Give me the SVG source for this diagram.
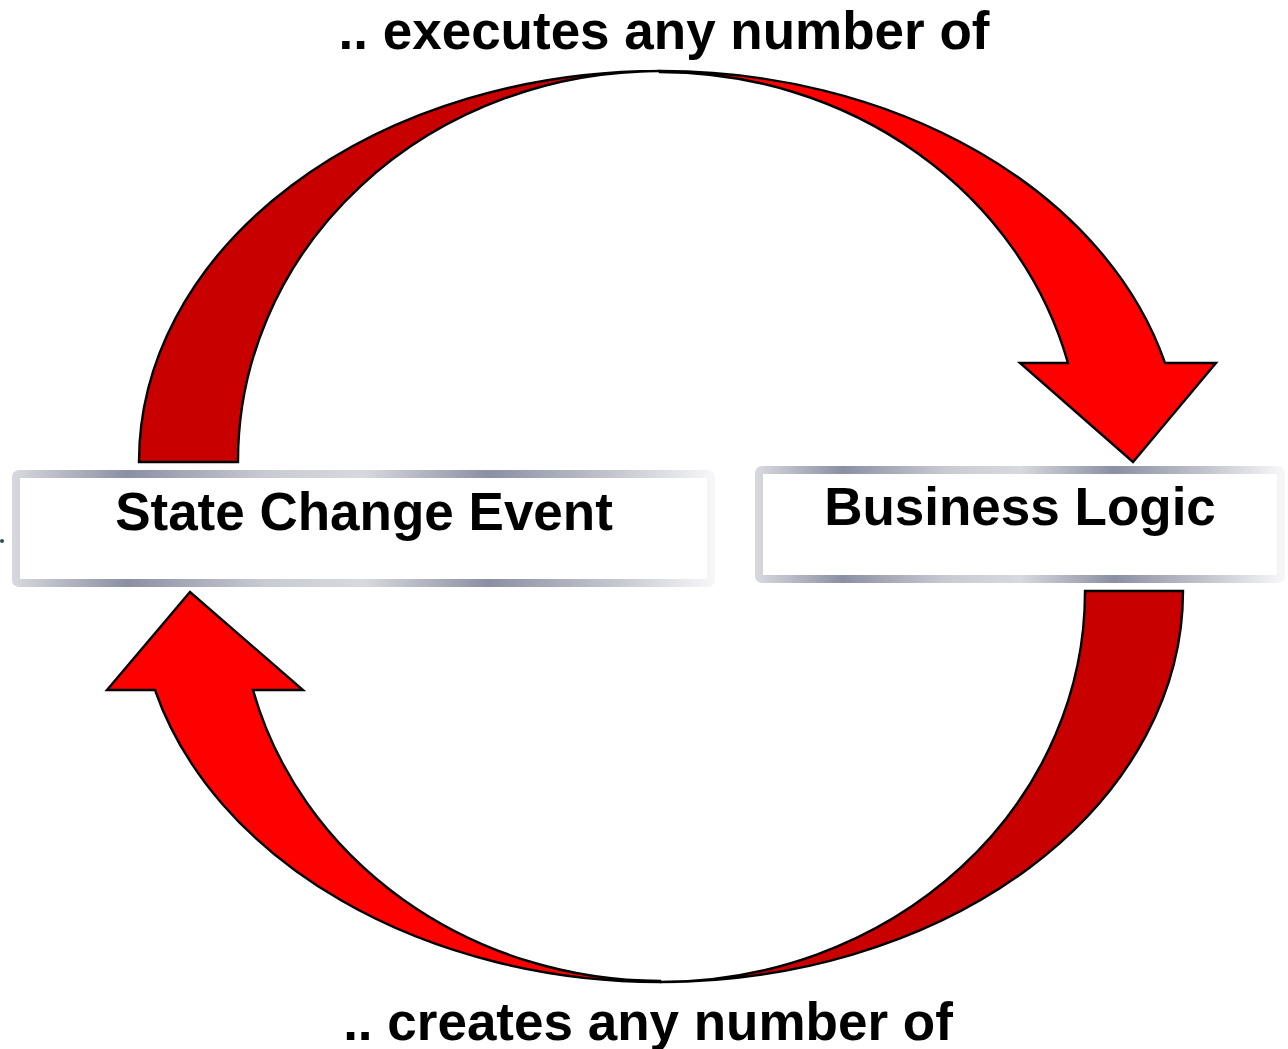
<svg xmlns="http://www.w3.org/2000/svg" width="1288" height="1049" viewBox="0 0 1288 1049">
<defs>
<linearGradient id="silver" x1="0" y1="0" x2="1" y2="0">
<stop offset="0" stop-color="#d6d7dc"/>
<stop offset="0.16" stop-color="#8a8fa3"/>
<stop offset="0.36" stop-color="#c9cbd3"/>
<stop offset="0.5" stop-color="#d8d9de"/>
<stop offset="0.68" stop-color="#8a8fa3"/>
<stop offset="0.86" stop-color="#c4c6ce"/>
<stop offset="1" stop-color="#f6f6f8"/>
</linearGradient>
<style>
.box{fill:#fff;stroke:url(#silver);stroke-width:8}
.lbl{font-family:"Liberation Sans",Arial,sans-serif;font-weight:bold;font-size:53px;fill:#000;text-anchor:middle}
.bright{fill:#ff0000;stroke:#000;stroke-width:2.4;stroke-linejoin:miter}
.dark{fill:#c80000;stroke:#000;stroke-width:2.4;stroke-linejoin:miter}
</style>
</defs>
<rect width="1288" height="1049" fill="#fff"/>
<g id="connectors">
<path class="dark" d="M 139 462 A 521 391 0 0 1 660 71 A 422 390 0 0 0 238 462 Z"/>
<path class="bright" d="M 660 71 A 521 391 0 0 1 1165 363 L 1216 363 L 1133 462 L 1020 363 L 1068 363 A 422 390 0 0 0 660 72 Z"/>
<path class="dark" d="M 1183 591 A 523 391 0 0 1 660 982 A 425 390 0 0 0 1085 591 Z"/>
<path class="bright" d="M 660 982 A 523 391 0 0 1 155 690 L 107 690 L 190 592 L 303 690 L 253 690 A 422 390 0 0 0 660 981 Z"/>
<text class="lbl" x="664" y="49">.. executes any number of</text>
<text class="lbl" x="648" y="1040">.. creates any number of</text>
</g>
<g id="node-state-change-event">
<rect class="box" x="16" y="474" width="695" height="109" rx="3"/>
<text class="lbl" x="364" y="530" font-size="52">State Change Event</text>
</g>
<g id="node-business-logic">
<rect class="box" x="759" y="470" width="522" height="109" rx="3"/>
<text class="lbl" x="1020" y="525" font-size="52">Business Logic</text>
</g>
<circle cx="2" cy="541" r="2" fill="#2f4f4f"/>
</svg>
